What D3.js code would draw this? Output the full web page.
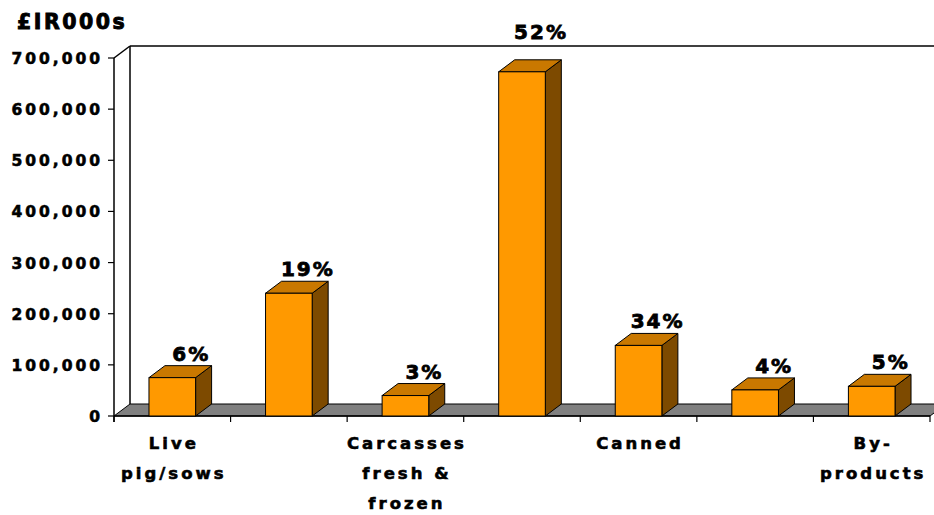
<!DOCTYPE html>
<html>
<head>
<meta charset="utf-8">
<script src="https://cdn.jsdelivr.net/npm/d3@7"></script>
<style>
html,body{margin:0;padding:0;background:#fff;}
svg{display:block;}
text{font-family:"DejaVu Sans",sans-serif;font-weight:bold;fill:#000;stroke:#000;stroke-width:0.6px;}
</style>
</head>
<body>
<svg id="chart" width="934" height="515"></svg>
<script>
// ---- data ----
const categories = ["Live pig/sows", "cat2", "Carcasses fresh & frozen", "cat4", "Canned", "cat6", "By-products"];
const categoryLabels = [["Live", "pig/sows"], [], ["Carcasses", "fresh &", "frozen"], [], ["Canned"], [], ["By-", "products"]];
const values = [75000, 240000, 40000, 673000, 138000, 51000, 58000];
const percentLabels = ["6%", "19%", "3%", "52%", "34%", "4%", "5%"];
const yTicks = [0, 100000, 200000, 300000, 400000, 500000, 600000, 700000];
const yTitle = "£IR000s";

// ---- layout ----
const svg = d3.select("#chart");
const pLeft = 114, pRight = 930, pTop = 58, pBottom = 416;
const dx = 16, dy = -12;
const colFront = "#FF9900", colTop = "#C97800", colSide = "#7D4A00", colFloor = "#808080";

const y = d3.scaleLinear().domain([0, 700000]).range([pBottom, pTop]);
const x = d3.scaleBand().domain(d3.range(categories.length)).range([pLeft, pRight]).paddingInner(0.6).paddingOuter(0.3);
const step = x.step();

// back wall lines
svg.append("line").attr("x1", pLeft + dx).attr("y1", pTop + dy).attr("x2", pLeft + dx).attr("y2", pBottom + dy).attr("stroke", "#000").attr("stroke-width", 1.5);
svg.append("line").attr("x1", pLeft + dx).attr("y1", pTop + dy).attr("x2", 934).attr("y2", pTop + dy).attr("stroke", "#000").attr("stroke-width", 1.5);
svg.append("line").attr("x1", pLeft).attr("y1", pTop).attr("x2", pLeft + dx).attr("y2", pTop + dy).attr("stroke", "#000").attr("stroke-width", 1.5);

// floor
svg.append("polygon")
  .attr("points", [[pLeft, pBottom], [pRight, pBottom], [pRight + dx, pBottom + dy], [pLeft + dx, pBottom + dy]].map(p => p.join(",")).join(" "))
  .attr("fill", colFloor).attr("stroke", "#000").attr("stroke-width", 1);

// y axis
svg.append("line").attr("x1", pLeft).attr("y1", pTop).attr("x2", pLeft).attr("y2", pBottom + 6).attr("stroke", "#000").attr("stroke-width", 1.5);
const fmt = d3.format(",");
yTicks.forEach(t => {
  svg.append("line").attr("x1", pLeft - 6).attr("x2", pLeft).attr("y1", y(t)).attr("y2", y(t)).attr("stroke", "#000").attr("stroke-width", 1.2);
  svg.append("text").attr("x", 103).attr("y", y(t) + 6).attr("text-anchor", "end")
    .style("font-size", "15.5px").style("letter-spacing", "3px").text(fmt(t));
});

// title
svg.append("text").attr("x", 17).attr("y", 29).style("font-size", "20.5px").style("letter-spacing", "2.5px")
  .style("stroke-width", "0.9px").text(yTitle);

// x axis
svg.append("line").attr("x1", pLeft).attr("x2", pRight).attr("y1", pBottom).attr("y2", pBottom).attr("stroke", "#000").attr("stroke-width", 1.5);
d3.range(categories.length + 1).forEach(i => {
  const xx = pLeft + i * step;
  svg.append("line").attr("x1", xx).attr("x2", xx).attr("y1", pBottom).attr("y2", pBottom + 6).attr("stroke", "#000").attr("stroke-width", 1.2);
});

// bars
const w = x.bandwidth();
values.forEach((v, i) => {
  const x0 = x(i), yv = y(v), y0 = y(0);
  const g = svg.append("g");
  g.append("polygon").attr("points", [[x0 + w, yv], [x0 + w + dx, yv + dy], [x0 + w + dx, y0 + dy], [x0 + w, y0]].map(p => p.join(",")).join(" "))
    .attr("fill", colSide).attr("stroke", "#000").attr("stroke-width", 1);
  g.append("polygon").attr("points", [[x0, yv], [x0 + dx, yv + dy], [x0 + w + dx, yv + dy], [x0 + w, yv]].map(p => p.join(",")).join(" "))
    .attr("fill", colTop).attr("stroke", "#000").attr("stroke-width", 1);
  g.append("rect").attr("x", x0).attr("y", yv).attr("width", w).attr("height", y0 - yv)
    .attr("fill", colFront).attr("stroke", "#000").attr("stroke-width", 1);
  // percent label
  let by = yv - 17;
  if (by - 15 < pTop + dy + 2) by = pTop + dy - 7;
  svg.append("text").attr("x", x0 + w / 2 + 19).attr("y", by).attr("text-anchor", "middle")
    .style("font-size", "20px").style("letter-spacing", "2px").style("stroke-width", "0.8px").text(percentLabels[i]);
});

// category labels
categoryLabels.forEach((lines, i) => {
  const cx = x(i) + w / 2 + 1.5;
  lines.forEach((ln, j) => {
    svg.append("text").attr("x", cx).attr("y", 449 + j * 30).attr("text-anchor", "middle")
      .style("font-size", "16.5px").style("letter-spacing", "3px").text(ln);
  });
});
</script>
</body>
</html>
